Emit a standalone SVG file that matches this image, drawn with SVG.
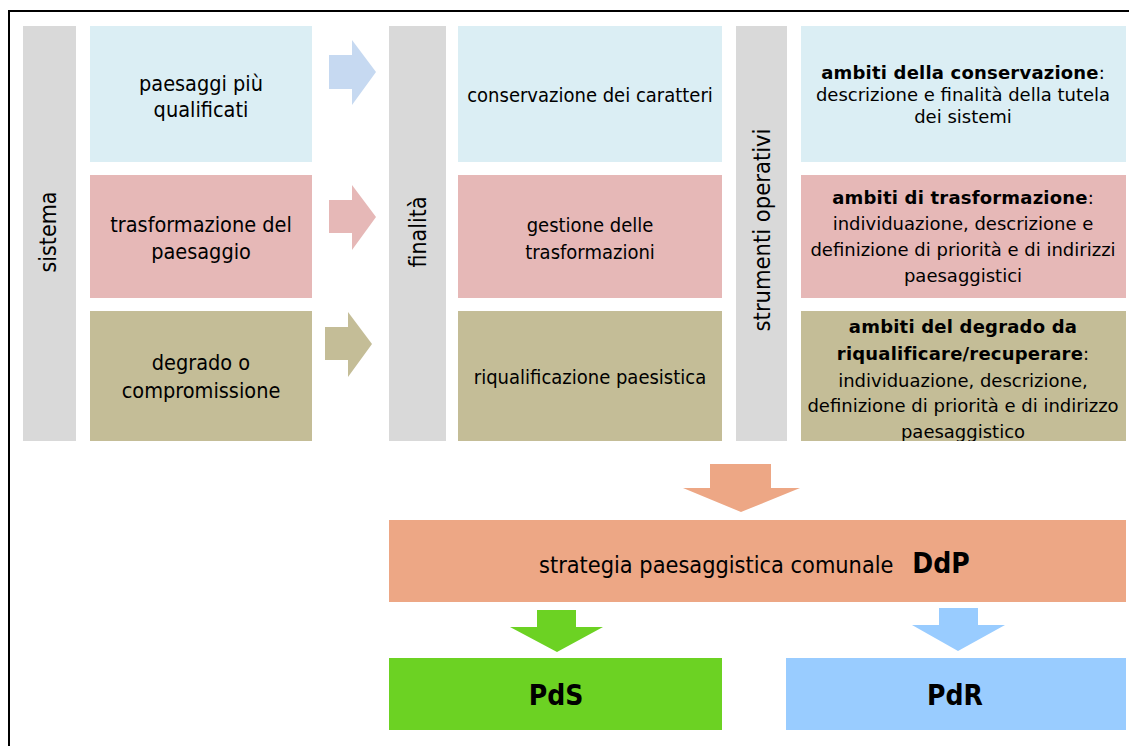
<svg xmlns="http://www.w3.org/2000/svg" width="1129" height="746" viewBox="0 0 1129 746">
<style>
.t{font-family:"DejaVu Sans","Verdana",sans-serif;fill:#000;text-anchor:middle}
.c{font-family:"DejaVu Sans Condensed","DejaVu Sans",sans-serif}
.l{font-size:21.5px}
.m{font-size:20px}
.r{font-size:18px}
.b{font-weight:bold;letter-spacing:0.2px}
.v{font-size:23px}
.big{font-family:"DejaVu Sans Condensed","DejaVu Sans",sans-serif;font-weight:bold;font-size:28px;text-anchor:middle}
.gray{fill:#D9D9D9}
.blue{fill:#DBEEF4}
.pink{fill:#E6B8B7}
.olive{fill:#C4BD97}
</style>
<defs>
<clipPath id="clip3"><rect x="801" y="311" width="325" height="130"/></clipPath>
</defs>
<rect width="1129" height="746" fill="#fff"/>
<g id="frame">
<rect x="8" y="10" width="2" height="736" fill="#000"/>
<rect x="8" y="10" width="1121" height="2" fill="#000"/>
</g>
<g id="sistema">
<rect class="gray" x="23" y="26" width="53" height="415"/>
<text class="t c v" transform="translate(56,232) rotate(-90)">sistema</text>
</g>
<g id="paesaggi">
<rect class="blue" x="90" y="26" width="222" height="136"/>
<text class="t c l" x="201" y="91">paesaggi più</text>
<text class="t c l" x="201" y="117">qualificati</text>
</g>
<g id="trasformazione">
<rect class="pink" x="90" y="175" width="222" height="123"/>
<text class="t c l" x="201" y="232">trasformazione del</text>
<text class="t c l" x="201" y="259">paesaggio</text>
</g>
<g id="degrado">
<rect class="olive" x="90" y="311" width="222" height="130"/>
<text class="t c l" x="201" y="370">degrado o</text>
<text class="t c l" x="201" y="398">compromissione</text>
</g>
<g id="finalita">
<rect class="gray" x="389" y="26" width="57" height="415"/>
<text class="t c v" transform="translate(426,232) rotate(-90)">finalità</text>
</g>
<g id="conservazione">
<rect class="blue" x="458" y="26" width="264" height="136"/>
<text class="t c m" x="590" y="102">conservazione dei caratteri</text>
</g>
<g id="gestione">
<rect class="pink" x="458" y="175" width="264" height="123"/>
<text class="t c m" x="590" y="232">gestione delle</text>
<text class="t c m" x="590" y="259">trasformazioni</text>
</g>
<g id="riqualificazione">
<rect class="olive" x="458" y="311" width="264" height="130"/>
<text class="t c m" x="590" y="384">riqualificazione paesistica</text>
</g>
<g id="strumenti">
<rect class="gray" x="736" y="26" width="51" height="415"/>
<text class="t c" style="font-size:23.5px" transform="translate(770,230) rotate(-90)">strumenti operativi</text>
</g>
<g id="ambiti-conservazione">
<rect class="blue" x="801" y="26" width="325" height="136"/>
<text class="t r" x="963" y="79"><tspan class="b">ambiti della conservazione</tspan>:</text>
<text class="t r" x="963" y="101">descrizione e finalità della tutela</text>
<text class="t r" x="963" y="123">dei sistemi</text>
</g>
<g id="ambiti-trasformazione">
<rect class="pink" x="801" y="175" width="325" height="123"/>
<text class="t r" x="963" y="204"><tspan class="b">ambiti di trasformazione</tspan>:</text>
<text class="t r" x="963" y="230">individuazione, descrizione e</text>
<text class="t r" x="963" y="256">definizione di priorità e di indirizzi</text>
<text class="t r" x="963" y="282">paesaggistici</text>
</g>
<g id="ambiti-degrado">
<rect class="olive" x="801" y="311" width="325" height="130"/>
<g clip-path="url(#clip3)">
<text class="t r b" x="963" y="333">ambiti del degrado da</text>
<text class="t r" x="963" y="360"><tspan class="b">riqualificare/recuperare</tspan>:</text>
<text class="t r" x="963" y="387">individuazione, descrizione,</text>
<text class="t r" x="963" y="412">definizione di priorità e di indirizzo</text>
<text class="t r" x="963" y="438">paesaggistico</text>
</g>
</g>
<g id="strategia">
<rect x="389" y="520" width="737" height="82" fill="#EDA785"/>
<text class="t c" style="font-size:23.3px;text-anchor:start" x="539" y="573">strategia paesaggistica comunale</text>
<text class="big" x="941" y="573">DdP</text>
</g>
<g id="pds">
<rect x="389" y="658" width="333" height="72" fill="#6CD223"/>
<text class="big" x="556" y="705">PdS</text>
</g>
<g id="pdr">
<rect x="786" y="658" width="340" height="72" fill="#99CCFF"/>
<text class="big" x="955" y="705">PdR</text>
</g>
<g id="connectors">
<polygon points="329,55 352,55 352,40 376,72 352,105 352,89 329,89" fill="#C6D9F1"/>
<polygon points="329,200 352,200 352,185 376,217 352,250 352,233 329,233" fill="#E6B8B7"/>
<polygon points="325,327 348,327 348,312 372,344 348,377 348,360 325,360" fill="#C4BD97"/>
<polygon points="710,464 771,464 771,488 800,488 741,512 683,488 710,488" fill="#EDA785"/>
<polygon points="537,610 576,610 576,627 603,627 557,652 510,627 537,627" fill="#6CD223"/>
<polygon points="939,608 978,608 978,625 1005,625 958,651 912,625 939,625" fill="#99CCFF"/>
</g>
</svg>
